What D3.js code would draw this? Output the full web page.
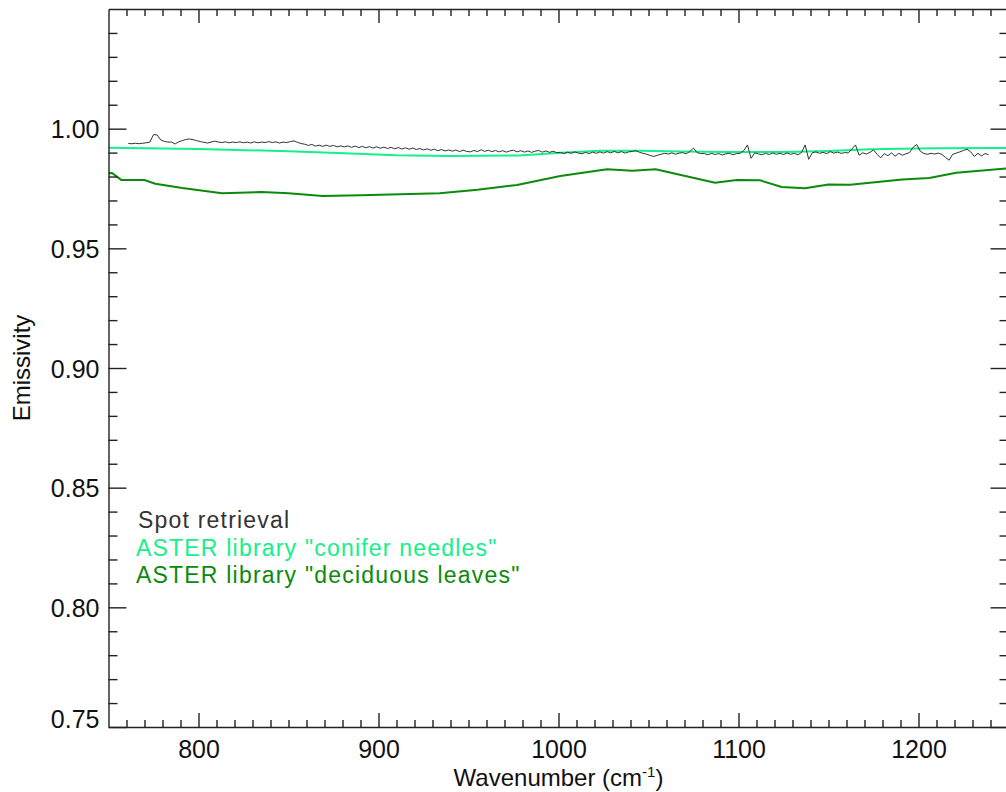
<!DOCTYPE html>
<html>
<head>
<meta charset="utf-8">
<script src="https://cdn.jsdelivr.net/npm/d3@7"></script>
<style>
  body { margin: 0; background: #fff; }
  svg { display: block; font-family: "Liberation Sans", Arial, Helvetica, sans-serif; }
  .axis path, .axis line { stroke: #222; stroke-width: 1.4; }
  .axis text { font-size: 25px; fill: #111; }
</style>
</head>
<body>
<div class="chart"></div>
<script>
// ---- data ----
var xMajorTicks = [800, 900, 1000, 1100, 1200];
var yMajorTicks = [0.75, 0.80, 0.85, 0.90, 0.95, 1.00];
var yTickLabels = ["0.75", "0.80", "0.85", "0.90", "0.95", "1.00"];

// conifer needles (ASTER library)
var coniferWn  = [750, 800, 850, 881, 910, 940, 978, 1004, 1023, 1045, 1068, 1095, 1126, 1150, 1173, 1210, 1250];
var coniferEm  = [0.9920, 0.9915, 0.9906, 0.9897, 0.9889, 0.9886, 0.9888, 0.9900, 0.9908, 0.9908, 0.9905, 0.9902, 0.9902, 0.9907, 0.9914, 0.9918, 0.9919];

// deciduous leaves (ASTER library)
var deciduousWn = [750, 752, 757, 770, 776, 791, 813, 835, 850, 869, 890, 912, 934, 955, 977, 1001, 1027, 1041, 1054, 1079, 1087, 1099, 1112, 1124, 1137, 1150, 1162, 1191, 1206, 1221, 1250];
var deciduousEm = [0.9814, 0.9815, 0.9786, 0.9785, 0.9770, 0.9752, 0.9730, 0.9735, 0.9730, 0.9719, 0.9722, 0.9726, 0.9730, 0.9745, 0.9765, 0.9802, 0.9830, 0.9824, 0.9830, 0.9788, 0.9774, 0.9785, 0.9784, 0.9756, 0.9751, 0.9767, 0.9766, 0.9788, 0.9794, 0.9816, 0.9834];

// spot retrieval, sampled every 2 cm-1 from 761 to 1239
var spotWn = d3.range(761, 1240, 2);
var spotEm = [
  0.9938, 0.9937, 0.9939, 0.9937, 0.9939, 0.9941, 0.9944, 0.9975, 0.9974, 0.9953,
  0.9947, 0.9944, 0.9944, 0.9936, 0.9945, 0.9950, 0.9955, 0.9957, 0.9954, 0.9950,
  0.9946, 0.9943, 0.9940, 0.9944, 0.9948, 0.9944, 0.9942, 0.9945, 0.9941, 0.9944,
  0.9942, 0.9945, 0.9941, 0.9944, 0.9940, 0.9945, 0.9941, 0.9944, 0.9942, 0.9946,
  0.9942, 0.9945, 0.9940, 0.9944, 0.9942, 0.9946, 0.9949, 0.9943, 0.9938, 0.9935,
  0.9930, 0.9934, 0.9927, 0.9931, 0.9926, 0.9931, 0.9926, 0.9930, 0.9924, 0.9928,
  0.9924, 0.9928, 0.9922, 0.9927, 0.9921, 0.9926, 0.9920, 0.9925, 0.9919, 0.9924,
  0.9918, 0.9923, 0.9917, 0.9922, 0.9916, 0.9921, 0.9915, 0.9920, 0.9914, 0.9919,
  0.9913, 0.9917, 0.9911, 0.9916, 0.9910, 0.9914, 0.9908, 0.9913, 0.9907, 0.9911,
  0.9906, 0.9911, 0.9904, 0.9910, 0.9905, 0.9903, 0.9909, 0.9904, 0.9912, 0.9905,
  0.9910, 0.9904, 0.9909, 0.9903, 0.9908, 0.9902, 0.9907, 0.9910, 0.9903, 0.9908,
  0.9902, 0.9907, 0.9901, 0.9906, 0.9909, 0.9902, 0.9907, 0.9901, 0.9906, 0.9900,
  0.9901, 0.9896, 0.9902, 0.9897, 0.9903, 0.9898, 0.9895, 0.9901, 0.9896, 0.9902,
  0.9897, 0.9903, 0.9898, 0.9904, 0.9899, 0.9905, 0.9899, 0.9904, 0.9898, 0.9903,
  0.9905, 0.9908, 0.9901, 0.9897, 0.9893, 0.9888, 0.9884, 0.9889, 0.9893, 0.9897,
  0.9894, 0.9899, 0.9893, 0.9898, 0.9900, 0.9895, 0.9905, 0.9919, 0.9900, 0.9896,
  0.9896, 0.9891, 0.9897, 0.9892, 0.9896, 0.9890, 0.9895, 0.9897, 0.9891, 0.9896,
  0.9897, 0.9909, 0.9932, 0.9876, 0.9899, 0.9895, 0.9891, 0.9897, 0.9892, 0.9898,
  0.9893, 0.9897, 0.9892, 0.9898, 0.9893, 0.9897, 0.9891, 0.9900, 0.9932, 0.9872,
  0.9899, 0.9903, 0.9897, 0.9901, 0.9896, 0.9904, 0.9898, 0.9902, 0.9897, 0.9900,
  0.9899, 0.9915, 0.9932, 0.9889, 0.9899, 0.9894, 0.9901, 0.9911, 0.9893, 0.9878,
  0.9896, 0.9887, 0.9899, 0.9885, 0.9897, 0.9889, 0.9895, 0.9900, 0.9922, 0.9934,
  0.9906, 0.9896, 0.9893, 0.9897, 0.9894, 0.9898, 0.9892, 0.9880, 0.9868, 0.9893,
  0.9898, 0.9903, 0.9909, 0.9914, 0.9903, 0.9884, 0.9897, 0.9886, 0.9896, 0.9891
];

var legendLabels = ["Spot retrieval", "ASTER library \"conifer needles\"", "ASTER library \"deciduous leaves\""];
var seriesColors = ["#333333", "#14f08a", "#0c8a0c"];

// ---- layout ----
var svgWidth = 1006;
var svgHeight = 792;
var plot = {left: 108.5, right: 1008.5, top: 9, bottom: 727};

var svg = d3.select(".chart")
  .append("svg")
  .attr("width", svgWidth)
  .attr("height", svgHeight);

var x = d3.scaleLinear().domain([750, 1250]).range([plot.left, plot.right]);
var y = d3.scaleLinear().domain([0.75, 1.05]).range([plot.bottom, plot.top]);

var xMinor = d3.range(760, 1250, 10).filter(function(v) { return v % 100 !== 0; });
var yMinor = d3.range(76, 105, 1).map(function(v) { return v / 100; }).filter(function(v) { return Math.round(v * 100) % 5 !== 0; });

// ---- lines ----
var line = d3.line()
  .x(function(d) { return x(d[0]); })
  .y(function(d) { return y(d[1]); });

svg.append("clipPath").attr("id", "clip")
  .append("rect")
  .attr("x", plot.left).attr("y", plot.top)
  .attr("width", plot.right - plot.left).attr("height", plot.bottom - plot.top);

var lines = svg.append("g").attr("clip-path", "url(#clip)");

lines.append("path")
  .datum(d3.zip(deciduousWn, deciduousEm))
  .attr("d", line)
  .attr("fill", "none")
  .attr("stroke", seriesColors[2])
  .attr("stroke-width", 2);

lines.append("path")
  .datum(d3.zip(coniferWn, coniferEm))
  .attr("d", line)
  .attr("fill", "none")
  .attr("stroke", seriesColors[1])
  .attr("stroke-width", 2);

lines.append("path")
  .datum(d3.zip(spotWn, spotEm))
  .attr("d", line)
  .attr("fill", "none")
  .attr("stroke", seriesColors[0])
  .attr("stroke-width", 1);

// ---- axes (ticks point inward, IDL style) ----
function noLabel() { return ""; }

// bottom
svg.append("g").attr("class", "axis")
  .attr("transform", "translate(0," + plot.bottom + ")")
  .call(d3.axisBottom(x).tickValues(xMajorTicks).tickSize(-14).tickSizeOuter(0).tickPadding(13)
    .tickFormat(d3.format("d")));
svg.append("g").attr("class", "axis")
  .attr("transform", "translate(0," + plot.bottom + ")")
  .call(d3.axisBottom(x).tickValues(xMinor).tickSize(-7).tickFormat(noLabel))
  .select(".domain").remove();

// top
svg.append("g").attr("class", "axis")
  .attr("transform", "translate(0," + plot.top + ")")
  .call(d3.axisTop(x).tickValues(xMajorTicks).tickSize(-14).tickSizeOuter(0).tickFormat(noLabel));
svg.append("g").attr("class", "axis")
  .attr("transform", "translate(0," + plot.top + ")")
  .call(d3.axisTop(x).tickValues(xMinor).tickSize(-7).tickFormat(noLabel))
  .select(".domain").remove();

// left
var leftAxis = svg.append("g").attr("class", "axis")
  .attr("transform", "translate(" + plot.left + ",0)")
  .call(d3.axisLeft(y).tickValues(yMajorTicks).tickSize(-18).tickSizeOuter(0).tickPadding(9)
    .tickFormat(function(d, i) { return yTickLabels[i]; }));
leftAxis.selectAll(".tick text")
  .attr("dy", function(d, i) { return i === 0 ? "0.02em" : "0.36em"; });
svg.append("g").attr("class", "axis")
  .attr("transform", "translate(" + plot.left + ",0)")
  .call(d3.axisLeft(y).tickValues(yMinor).tickSize(-9).tickFormat(noLabel))
  .select(".domain").remove();

// right
svg.append("g").attr("class", "axis")
  .attr("transform", "translate(" + plot.right + ",0)")
  .call(d3.axisRight(y).tickValues(yMajorTicks).tickSize(-18).tickSizeOuter(0).tickFormat(noLabel));
svg.append("g").attr("class", "axis")
  .attr("transform", "translate(" + plot.right + ",0)")
  .call(d3.axisRight(y).tickValues(yMinor).tickSize(-9).tickFormat(noLabel))
  .select(".domain").remove();

// ---- axis titles ----
var xTitle = svg.append("text")
  .attr("x", (plot.left + plot.right) / 2)
  .attr("y", 786)
  .attr("text-anchor", "middle")
  .attr("font-size", "24px")
  .attr("fill", "#111");
xTitle.append("tspan").text("Wavenumber (cm");
xTitle.append("tspan").attr("font-size", "15px").attr("dy", "-9").text("-1");
xTitle.append("tspan").attr("dy", "9").text(")");

svg.append("text")
  .attr("transform", "translate(30," + ((plot.top + plot.bottom) / 2) + ") rotate(-90)")
  .attr("text-anchor", "middle")
  .attr("font-size", "24px")
  .attr("fill", "#111")
  .text("Emissivity");

// ---- legend ----
svg.append("g").selectAll("text")
  .data(legendLabels)
  .enter()
  .append("text")
  .attr("x", function(d, i) { return i === 0 ? 138 : 136; })
  .attr("y", function(d, i) { return 528 + i * 27.5; })
  .attr("font-size", "23px")
  .attr("letter-spacing", "1.2px")
  .attr("fill", function(d, i) { return seriesColors[i]; })
  .text(function(d) { return d; });
</script>
</body>
</html>
